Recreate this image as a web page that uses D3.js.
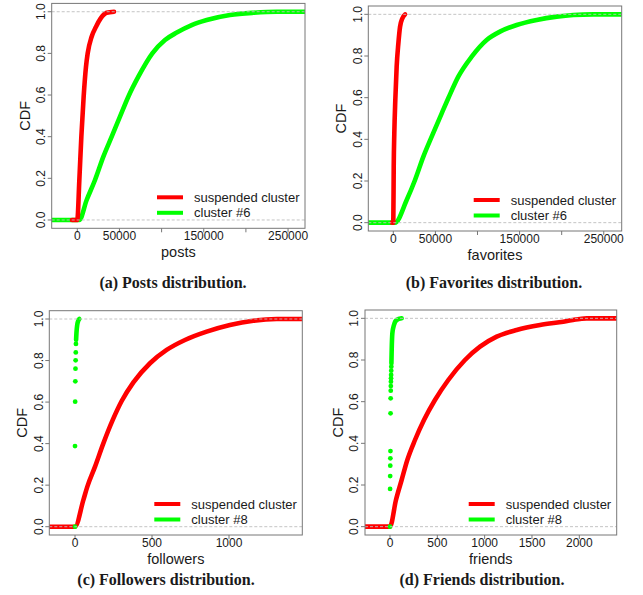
<!DOCTYPE html>
<html>
<head>
<meta charset="utf-8">
<script src="https://cdn.jsdelivr.net/npm/d3@7"></script>
<style>
  body { margin: 0; background: #fff; }
  svg text { font-family: "Liberation Sans", Arial, sans-serif; fill: #1a1a1a; }
  svg text.caption { font-family: "Liberation Serif", "Times New Roman", serif; font-weight: bold; }
</style>
</head>
<body>
<svg id="fig" width="643" height="595"></svg>
<script>
// ---- data ----
var cdfTicks = [0, 0.2, 0.4, 0.6, 0.8, 1.0];
var cdfTickLabels = ["0.0", "0.2", "0.4", "0.6", "0.8", "1.0"];

var bigTicks = [0, 50000, 100000, 150000, 200000, 250000];
var bigTickLabels = ["0", "50000", "", "150000", "", "250000"];
var followersTicks = [0, 500, 1000];
var followersTickLabels = ["0", "500", "1000"];
var friendsTicks = [0, 500, 1000, 1500, 2000];
var friendsTickLabels = ["0", "500", "1000", "1500", "2000"];

// (a) posts
var postsSuspX = [-6300, 0, 2400, 4800, 7500, 10300, 12300, 17000, 22200, 27700, 34800, 43600];
var postsSuspY = [0, 0, 0.19, 0.40, 0.59, 0.736, 0.80, 0.88, 0.928, 0.968, 0.995, 1.0];
var postsC6X = [-30000, 2400, 11100, 21000, 30900, 40800, 50600, 60500, 72400, 89000, 104000, 118000, 135700, 153500, 181100, 208800, 236500, 270000];
var postsC6Y = [0, 0, 0.096, 0.192, 0.304, 0.40, 0.496, 0.592, 0.688, 0.80, 0.864, 0.90, 0.936, 0.96, 0.984, 0.995, 1.0, 1.0];

// (b) favorites
var favSuspX = [-1500, 0, 500, 1200, 2400, 4000, 6000, 8000, 10700, 14000];
var favSuspY = [0, 0, 0.27, 0.43, 0.59, 0.75, 0.86, 0.94, 0.98, 1.0];
var favC6X = [-29700, 2000, 15900, 25800, 35700, 45600, 57500, 65300, 77200, 93100, 110900, 126700, 146600, 170300, 194100, 213800, 237500, 271300];
var favC6Y = [0, 0, 0.109, 0.205, 0.317, 0.413, 0.525, 0.597, 0.701, 0.797, 0.877, 0.917, 0.949, 0.973, 0.989, 0.997, 1.0, 1.0];

// (c) followers
var follSuspX = [-170, 0, 54, 80, 130, 184, 245, 303, 379, 487, 595, 714, 855, 1006, 1158, 1310, 1476];
var follSuspY = [0, 0, 0.128, 0.193, 0.289, 0.401, 0.514, 0.605, 0.695, 0.787, 0.851, 0.899, 0.939, 0.971, 0.992, 1.0, 1.0];
var follC8DotX = [0, 0, 1, 2, 3, 4, 5, 6];
var follC8DotY = [0, 0.388, 0.602, 0.700, 0.761, 0.801, 0.839, 0.880];
var follC8TailX = [7, 10, 14, 20, 28];
var follC8TailY = [0.90, 0.94, 0.97, 0.99, 1.0];

// (d) friends
var friSuspX = [-264, 0, 63, 123, 183, 264, 359, 475, 616, 792, 951, 1127, 1338, 1585, 1831, 2007, 2078, 2395];
var friSuspY = [0, 0, 0.128, 0.224, 0.32, 0.416, 0.512, 0.608, 0.704, 0.80, 0.864, 0.912, 0.944, 0.968, 0.984, 0.997, 1.0, 1.0];
var friC8DotX = [0, 1, 2, 3, 4, 5, 6, 7, 8, 9, 10, 11, 12, 13, 14];
var friC8DotY = [0, 0.181, 0.243, 0.293, 0.328, 0.363, 0.544, 0.616, 0.653, 0.675, 0.696, 0.712, 0.728, 0.749, 0.768];
var friC8TailX = [15, 18, 25, 42, 70, 123];
var friC8TailY = [0.784, 0.848, 0.928, 0.968, 0.992, 1.0];

var RED = "#ff0000";
var GREEN = "#00ff00";

function zip(xs, ys){
  return xs.map(function(x, i){ return [x, ys[i]]; });
}

var panels = [
  {box: [51.7, 305, 3.4, 228.3], xdom: [-30370, 270100], ticks: bigTicks, tickLabels: bigTickLabels,
   xlabel: "posts", caption: "(a) Posts distribution.", capX: 173, capY: 287.5, other: "cluster #6",
   order: [
     {kind: "line", pts: zip(postsC6X, postsC6Y), color: GREEN},
     {kind: "line", pts: zip(postsSuspX, postsSuspY), color: RED}]},
  {box: [368.3, 621.7, 6, 231], xdom: [-29700, 271300], ticks: bigTicks, tickLabels: bigTickLabels,
   xlabel: "favorites", caption: "(b) Favorites distribution.", capX: 494, capY: 287.5, other: "cluster #6",
   order: [
     {kind: "line", pts: zip(favC6X, favC6Y), color: GREEN},
     {kind: "line", pts: zip(favSuspX, favSuspY), color: RED}]},
  {box: [49.3, 302.3, 310.7, 535], xdom: [-167, 1476], ticks: followersTicks, tickLabels: followersTickLabels,
   xlabel: "followers", caption: "(c) Followers distribution.", capX: 166, capY: 584.5, other: "cluster #8",
   order: [
     {kind: "line", pts: zip(follSuspX, follSuspY), color: RED},
     {kind: "dots", pts: zip(follC8DotX, follC8DotY), color: GREEN},
     {kind: "line", pts: zip(follC8TailX, follC8TailY), color: GREEN}]},
  {box: [365, 616.7, 310, 535], xdom: [-264, 2395], ticks: friendsTicks, tickLabels: friendsTickLabels,
   xlabel: "friends", caption: "(d) Friends distribution.", capX: 482, capY: 584.5, other: "cluster #8",
   order: [
     {kind: "line", pts: zip(friSuspX, friSuspY), color: RED},
     {kind: "dots", pts: zip(friC8DotX, friC8DotY), color: GREEN},
     {kind: "line", pts: zip(friC8TailX, friC8TailY), color: GREEN}]}
];

var svg = d3.select("svg#fig");

panels.forEach(function(p, pi){
  var L = p.box[0], R = p.box[1], T = p.box[2], B = p.box[3];
  var x = d3.scaleLinear().domain(p.xdom).range([L, R]);
  var y = d3.scaleLinear().domain([-0.04, 1.04]).range([B, T]);
  var g = svg.append("g").attr("class", "panel");

  var clipId = "clip" + pi;
  g.append("clipPath").attr("id", clipId)
    .append("rect").attr("x", L).attr("y", T).attr("width", R - L).attr("height", B - T);

  var plot = g.append("g").attr("clip-path", "url(#" + clipId + ")");
  var line = d3.line().x(function(d){ return x(d[0]); }).y(function(d){ return y(d[1]); })
    .curve(d3.curveMonotoneX);

  p.order.forEach(function(s){
    if(s.kind == "line"){
      plot.append("path")
        .attr("d", line(s.pts))
        .attr("fill", "none")
        .attr("stroke", s.color)
        .attr("stroke-width", 4.6)
        .attr("stroke-linecap", "round")
        .attr("stroke-linejoin", "round");
    }else{
      plot.selectAll("circle.dot" + pi)
        .data(s.pts)
        .enter()
        .append("circle")
        .attr("cx", function(d){ return x(d[0]); })
        .attr("cy", function(d){ return y(d[1]); })
        .attr("r", 2.4)
        .attr("fill", s.color);
    }
  });

  // dashed reference lines at 0 and 1 (drawn over the curves)
  [0, 1].forEach(function(v){
    plot.append("line")
      .attr("x1", L).attr("x2", R)
      .attr("y1", y(v)).attr("y2", y(v))
      .attr("stroke", "#bdbdbd")
      .attr("stroke-width", 0.9)
      .attr("stroke-dasharray", "3,2");
  });

  // box
  g.append("rect")
    .attr("x", L).attr("y", T).attr("width", R - L).attr("height", B - T)
    .attr("fill", "none").attr("stroke", "#777").attr("stroke-width", 1);

  // x ticks
  p.ticks.forEach(function(t, i){
    g.append("line")
      .attr("x1", x(t)).attr("x2", x(t))
      .attr("y1", B).attr("y2", B + 4)
      .attr("stroke", "#777");
    if(p.tickLabels[i] != ""){
      g.append("text")
        .text(p.tickLabels[i])
        .attr("x", x(t)).attr("y", B + 11.5)
        .attr("text-anchor", "middle")
        .style("font-size", "12px");
    }
  });

  // y ticks
  cdfTicks.forEach(function(t, i){
    g.append("line")
      .attr("x1", L - 4).attr("x2", L)
      .attr("y1", y(t)).attr("y2", y(t))
      .attr("stroke", "#777");
    g.append("text")
      .text(cdfTickLabels[i])
      .attr("transform", "translate(" + (L - 6.6) + "," + y(t) + ") rotate(-90)")
      .attr("text-anchor", "middle")
      .style("font-size", "12px");
  });

  // axis titles
  g.append("text")
    .text(p.xlabel)
    .attr("x", (L + R) / 2).attr("y", B + 28.5)
    .attr("text-anchor", "middle")
    .style("font-size", "14.5px");
  g.append("text")
    .text("CDF")
    .attr("transform", "translate(" + (L - 22) + "," + ((T + B) / 2) + ") rotate(-90)")
    .attr("text-anchor", "middle")
    .style("font-size", "14.5px");

  // legend
  var legend = [["suspended cluster", RED], [p.other, GREEN]];
  legend.forEach(function(e, i){
    var ly = B - 31 + i * 15.5;
    g.append("line")
      .attr("x1", R - 148).attr("x2", R - 122)
      .attr("y1", ly).attr("y2", ly)
      .attr("stroke", e[1]).attr("stroke-width", 4);
    g.append("text")
      .text(e[0])
      .attr("x", R - 111).attr("y", ly)
      .attr("dominant-baseline", "central")
      .style("font-size", "13px");
  });

  // caption
  svg.append("text")
    .attr("class", "caption")
    .text(p.caption)
    .attr("x", p.capX).attr("y", p.capY)
    .attr("text-anchor", "middle")
    .style("font-size", "16px");
});
</script>
</body>
</html>
